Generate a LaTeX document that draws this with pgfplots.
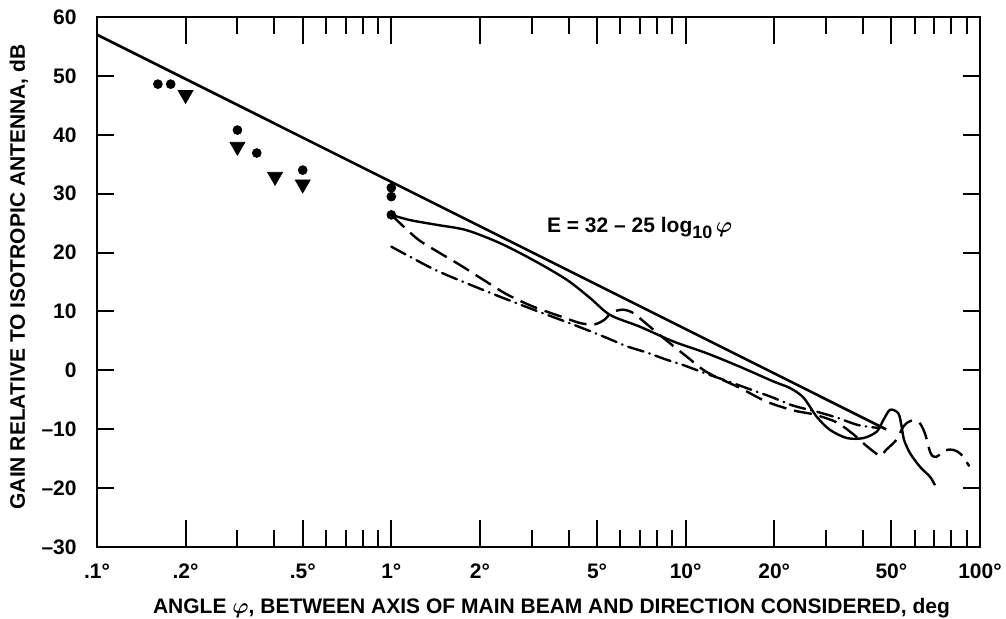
\documentclass[border=0pt]{standalone}
\usepackage{fontspec}
\setmainfont{Liberation Sans}
\usepackage{pgfplots}
\pgfplotsset{compat=1.18}
\begin{document}
\begin{tikzpicture}
\useasboundingbox (-48.5pt,-36pt) rectangle (454.5pt,273.5pt);
\begin{axis}[
  at={(0,0)}, anchor=south west,
  scale only axis, width=441.5pt, height=265pt,
  xmode=log, xmin=0.1, xmax=100, ymin=-30, ymax=60,
  font=\bfseries\fontsize{10.5}{12}\selectfont,
  axis line style={line width=1pt},
  xtick={0.1,0.2,0.5,1,2,5,10,20,50,100},
  xticklabels={.1°,.2°,.5°,1°,2°,5°,10°,20°,50°,100°},
  minor xtick={0.3,0.4,0.6,0.7,0.8,0.9,3,4,6,7,8,9,30,40,60,70,80,90},
  ytick={-30,-20,...,60},
  yticklabels={–30,–20,–10,0,10,20,30,40,50,60},
  minor ytick={-20,-10,...,50},
  major y tick style={draw=none},
  major tick style={line width=1pt, black},
  minor tick style={line width=1pt, black},
  major tick length=13.5pt, minor tick length=8.5pt,
  tick align=inside, xtick pos=both, ytick pos=both,
  xticklabel pos=bottom, yticklabel pos=left,
  xticklabel style={anchor=base, inner sep=0pt, yshift=-16pt},
  yticklabel style={anchor=east, inner sep=0pt, xshift=-10pt},
  every axis x label/.style={at={(axis description cs:0.5,0)}, anchor=center, xshift=6.5pt, yshift=-30.5pt},
  every axis y label/.style={at={(axis description cs:0,0.5)}, xshift=-39pt, yshift=2.5pt, rotate=90, anchor=center},
  xlabel={ANGLE {\boldmath$\varphi$}, BETWEEN AXIS OF MAIN BEAM AND DIRECTION CONSIDERED, deg},
  ylabel={GAIN RELATIVE TO ISOTROPIC ANTENNA, dB},
  clip=false,
]
% reference line E = 32 - 25 log10(phi)
\addplot[black, line width=1.3pt] coordinates {(0.1,57) (48,-10.03)};
% solid measured curve
\addplot[black, line width=1.2pt, smooth, tension=0.5] coordinates {
 (1.0,26.4) (1.16,25.5) (1.43,24.7) (1.80,23.8) (2.34,21.6) (3.04,18.7)
 (3.94,15.4) (4.73,12.3) (5.54,9.4) (7.0,7.4) (9.08,4.9) (11.8,2.9)
 (15.3,0.6) (19.9,-1.9) (22.6,-3.0) (25.1,-4.6) (27.9,-7.9) (30.9,-10.1)
 (35.3,-11.5) (40.2,-11.5) (44.6,-10.4) (47.0,-8.4) (49.5,-6.7) (52.8,-7.3)
 (54.2,-9.6) (55.2,-11.8) (57.9,-14.1) (62.6,-16.4) (67.7,-18.1) (70.3,-19.5)};
% dashed curve
\addplot[black, line width=1.2pt, smooth, tension=0.5, dash pattern=on 9pt off 4pt] coordinates {
 (1.0,26.4) (1.22,22.4) (1.43,20.2) (1.71,17.9) (2.05,15.4) (2.47,12.9)
 (3.04,10.8) (3.84,9.0) (4.4,8.0) (4.9,7.8) (5.3,8.6) (5.6,9.8) (6.1,10.3)
 (6.6,9.8) (7.2,8.3) (8.4,5.5) (10.1,2.3) (11.8,-0.3) (15.3,-3.0) (18.8,-5.3)
 (23.2,-6.8) (27.3,-7.5) (32.5,-8.8) (37,-10.8) (40.2,-12.4) (44,-14.0)
 (46,-14.5) (48,-13.5) (52,-11.8) (55,-9.5) (58,-8.6) (62,-8.8) (65,-10.7)
 (68,-14.1) (71,-14.7) (76,-13.6) (81,-13.5) (86,-14.2) (92,-16.3)};
% dash-dot curve
\addplot[black, line width=1.2pt, smooth, tension=0.5, line cap=round, dash pattern=on 8pt off 3pt on 0.3pt off 3pt] coordinates {
 (1.0,21) (1.39,17.2) (1.80,14.8) (2.34,12.5) (3.04,10.3) (3.94,8.2)
 (4.6,6.9) (5.4,5.5) (6.3,4.1) (7.4,3.0) (8.5,1.9) (9.8,0.9) (11.8,-0.6)
 (14,-1.9) (16.5,-3.2) (19.5,-4.5) (23.2,-6.0) (27.3,-6.9) (32.5,-8.0)
 (38.6,-9.3) (45.6,-9.8)};
% dots
\addplot[only marks, mark=*, mark size=2.2pt, black] coordinates {
 (0.161,48.6) (0.178,48.6) (0.3,40.8) (0.349,36.9) (0.5,34.0)
 (1.0,31.0) (1.0,29.5) (1.0,26.4)};
% triangles
\addplot[only marks, mark=triangle*, mark size=4.3pt, black, mark options={rotate=180}] coordinates {
 (0.2,46.8) (0.3,38.0) (0.4026,32.9) (0.5,31.6)};
\node[anchor=west, inner sep=0pt] at (axis cs:3.37,24.2) {E = 32 – 25 log\raisebox{-0.5ex}{\fontsize{9}{10}\selectfont 10}\,{\boldmath$\varphi$}};
\end{axis}
\end{tikzpicture}
\end{document}
